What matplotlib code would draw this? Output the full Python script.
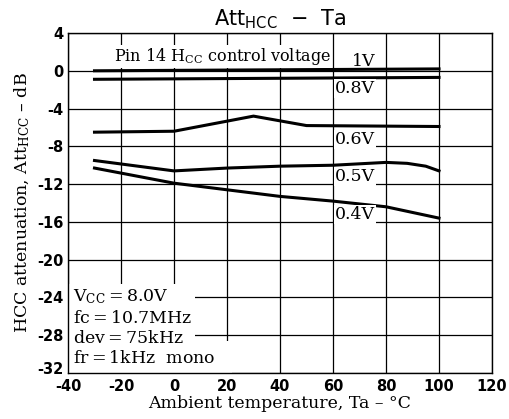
import matplotlib
matplotlib.use("Agg")
import matplotlib.pyplot as plt
import matplotlib.transforms as mtransforms

# Data
ta_1v = [-30, 100]
att_1v = [0.0, 0.2]
ta_08v = [-30, 100]
att_08v = [-0.9, -0.7]
ta_06v = [-30, 0, 30, 50, 100]
att_06v = [-6.5, -6.4, -4.8, -5.8, -5.9]
ta_05v = [-30, 0, 20, 40, 60, 80, 88, 95, 100]
att_05v = [-9.5, -10.6, -10.3, -10.1, -10.0, -9.7, -9.8, -10.1, -10.6]
ta_04v = [-30, 0, 20, 40, 60, 80, 100]
att_04v = [-10.3, -11.9, -12.6, -13.3, -13.8, -14.4, -15.6]

series_labels = ["1V", "0.8V", "0.6V", "0.5V", "0.4V"]
xticks = [-40, -20, 0, 20, 40, 60, 80, 100, 120]
yticks = [4, 0, -4, -8, -12, -16, -20, -24, -28, -32]

serif = "DejaVu Serif"
plt.rcParams["mathtext.fontset"] = "dejavuserif"

fig = plt.figure(figsize=(5.09, 4.19), dpi=100)
ax = fig.add_axes([0.1336, 0.1098, 0.833, 0.8114])
ax.set_xlim(-40, 120)
ax.set_ylim(-32, 4)
ax.set_xticks(xticks)
ax.set_yticks(yticks)
ax.set_xticklabels([str(t) for t in xticks])
ax.set_yticklabels([str(t) for t in yticks])
ax.tick_params(length=0, labelsize=10.5)
ax.tick_params(axis="x", pad=4)
ax.tick_params(axis="y", pad=3)
for lab in ax.get_xticklabels() + ax.get_yticklabels():
    lab.set_fontweight("bold")
# lift the bottom y label slightly above the corner, as in the reference
ylabs = ax.get_yticklabels()
ylabs[-1].set_transform(ylabs[-1].get_transform() +
                        mtransforms.ScaledTranslation(0, 5 / 100, fig.dpi_scale_trans))
ax.set_axisbelow(True)
ax.grid(True, color="black", linewidth=0.9)
for s in ax.spines.values():
    s.set_linewidth(1.0)
    s.set_zorder(5)

# white area behind condition text (gridlines hidden there)
ax.fill([-40, -40, 8, 8, 22, 22], [-32, -22.6, -22.6, -28.6, -28.6, -32],
        color="white", zorder=1, linewidth=0)

for xs, ys in [(ta_1v, att_1v), (ta_08v, att_08v), (ta_06v, att_06v),
               (ta_05v, att_05v), (ta_04v, att_04v)]:
    ax.plot(xs, ys, color="black", linewidth=2.2, zorder=3)

bbox = dict(facecolor="white", edgecolor="none", pad=0.8)
label_pos = [(76, 1.0), (60.6, -1.9), (60.6, -7.3), (60.6, -11.2), (60.6, -15.2)]
for (x, y), lab in zip(label_pos, series_labels):
    if lab == "1V":
        ax.text(x, y, lab, fontsize=12.5, family=serif, ha="right", va="center",
                zorder=4)
    else:
        ax.text(x, y, lab, fontsize=12.5, family=serif, ha="left", va="center",
                bbox=bbox, zorder=4)

ax.text(-22.5, 1.5, r"Pin 14 H$_{\mathrm{CC}}$ control voltage", fontsize=11.5,
        family=serif, ha="left", va="center", bbox=bbox, zorder=4)

cond = [r"V$_{\mathrm{CC}}$$=$8.0V", "fc$=$10.7MHz", "dev$=$75kHz", "fr$=$1kHz  mono"]
cond_y = [-23.9, -26.2, -28.4, -30.5]
for t, y in zip(cond, cond_y):
    ax.text(-38.3, y, t, fontsize=12.5, family=serif, ha="left", va="center",
            zorder=4)

ax.set_xlabel("Ambient temperature, Ta – °C", fontsize=12.5, family=serif, labelpad=1)
ax.set_ylabel(r"HCC attenuation, Att$_{\mathrm{HCC}}$ – dB", fontsize=12.5,
              family=serif, labelpad=4)
ax.set_title(r"Att$_{\mathsf{HCC}}$  $-$  Ta", fontsize=15, pad=5)

fig.savefig("out.png", dpi=100)
